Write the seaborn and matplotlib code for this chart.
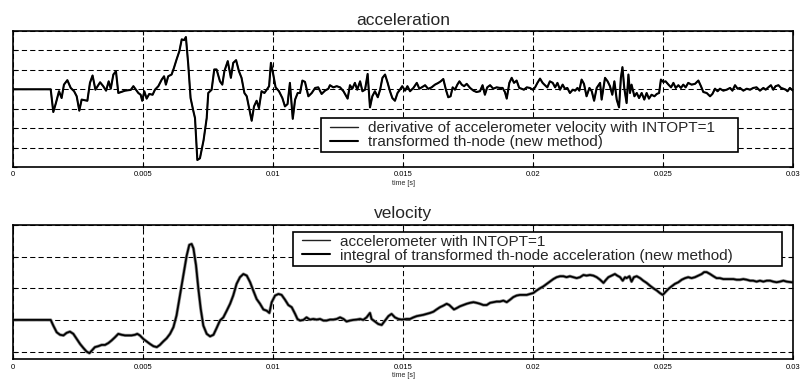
import numpy as np
import matplotlib
matplotlib.use("Agg")
import matplotlib.pyplot as plt
from matplotlib.legend_handler import HandlerLine2D
from matplotlib.lines import Line2D
import seaborn as sns

# ---------------- data ----------------
xticks = [0, 0.005, 0.01, 0.015, 0.02, 0.025, 0.03]
xtick_labels = ["0", "0.005", "0.01", "0.015", "0.02", "0.025", "0.03"]

accel_time_ms = [
    0, 1.45, 1.55, 1.65, 1.77, 1.87, 1.96, 2.09, 2.22, 2.35,
    2.45, 2.55, 2.64, 2.86, 2.96, 3.06, 3.17, 3.35, 3.47, 3.58,
    3.68, 3.76, 3.86, 3.96, 4.05, 4.31, 4.53, 4.63, 4.82, 4.91,
    4.97, 5.05, 5.14, 5.24, 5.37, 5.46, 5.59, 5.72, 5.81, 5.88,
    5.97, 6.10, 6.19, 6.29, 6.40, 6.49, 6.58, 6.65, 6.74, 6.83,
    6.94, 7.00, 7.09, 7.19, 7.33, 7.45,
    7.51, 7.64, 7.74, 7.83, 7.96, 8.05, 8.13, 8.26, 8.38, 8.47,
    8.58, 8.69, 8.79, 8.90, 8.99, 9.08, 9.18, 9.27, 9.37, 9.46,
    9.56, 9.67, 9.76, 9.85, 9.92, 10.01, 10.10, 10.23, 10.36, 10.46,
    10.56, 10.65, 10.76, 10.85, 10.95, 11.04, 11.13, 11.23, 11.36, 11.49,
    11.62, 11.74, 11.87, 12.00, 12.13, 12.19, 12.32, 12.45, 12.58, 12.71,
    12.87, 12.96, 13.05, 13.15, 13.24, 13.35, 13.44, 13.54, 13.64, 13.73,
    13.82, 13.92, 14.03, 14.12, 14.21, 14.31, 14.41, 14.50, 14.59, 14.69,
    14.79, 14.88, 14.97,
    15.08, 15.17, 15.27, 15.40, 15.53, 15.63, 15.72, 15.85, 15.97, 16.10,
    16.23, 16.36, 16.45, 16.55, 16.65, 16.74, 16.83, 16.91, 17.00, 17.09,
    17.17, 17.26, 17.35, 17.45, 17.58, 17.71, 17.83, 17.96, 18.06, 18.15,
    18.24, 18.35, 18.47, 18.60, 18.73, 18.83, 18.92, 18.99, 19.09, 19.18,
    19.27, 19.37, 19.47, 19.56, 19.65, 19.76, 19.88, 19.99, 20.08, 20.17,
    20.27, 20.37, 20.46, 20.55, 20.65, 20.76, 20.85, 20.94, 21.04, 21.14,
    21.23, 21.32, 21.42, 21.53, 21.62, 21.71, 21.78, 21.87, 21.96, 22.06,
    22.17, 22.26, 22.35, 22.45,
    22.58, 22.64, 22.77, 22.87, 22.96, 23.05, 23.13, 23.22, 23.31, 23.38,
    23.44, 23.51, 23.60, 23.67, 23.73, 23.79, 23.90, 23.99, 24.08, 24.18,
    24.28, 24.37, 24.46, 24.56, 24.67, 24.76, 24.85, 24.92, 25.01, 25.10,
    25.21, 25.31, 25.40, 25.49, 25.59, 25.69, 25.78, 25.87, 25.97, 26.10,
    26.23, 26.36, 26.46, 26.55, 26.68, 26.81, 26.90, 27.00, 27.10, 27.19,
    27.32, 27.45, 27.58, 27.67, 27.77, 27.87, 27.96, 28.09, 28.22, 28.35,
    28.47, 28.60, 28.73, 28.86, 28.95, 29.05, 29.15, 29.24, 29.33, 29.44,
    29.54, 29.63, 29.72, 29.79, 29.88, 30.00,
]

accel_transformed = [
    0, 0, -1.17, -0.71, -0.10, -0.45, 0.24, 0.47, 0.07, -0.10,
    -0.36, -1.10, -0.53, -0.59, 0.33, 0.71, -0.02, 0.36, 0.16, -0.07,
    0.41, 0.03, 0.76, 0.93, -0.19, -0.07, -0.03, 0.16, -0.19, -0.28,
    -0.59, -0.10, -0.48, -0.24, -0.28, -0.02, 0.16, 0.50, 0.67, 0.24,
    0.67, 0.76, 1.10, 1.53, 1.97, 2.57, 2.53, 2.69, 1.28, -0.45,
    -1.14, -1.48, -3.64, -3.55, -2.62, -1.48,
    -0.19, -0.02, 1.02, 1.02, 0.41, 0.24, 0.93, 1.45, 0.59, 1.36,
    1.50, 0.93, 0.59, -0.19, -0.36, -0.97, -1.62, -0.88, -0.59, -0.97,
    -0.10, -0.19, -0.02, 0.16, 1.36, 0.76, 0.10, -0.10, -0.45, -0.88,
    -0.76, 0.33, -1.52, -0.53, -0.19, -0.19, 0.45, 0.38, -0.36, -0.19,
    0.07, 0.10, -0.24, -0.07, 0.03, 0.21, 0.10, 0.16, 0.10, -0.10,
    -0.48, 0.21, 0.03, 0.33, -0.02, 0.41, -0.10, -0.02, 0.79, -0.93,
    -0.36, -0.10, -0.41, -0.02, 0.59, 0.76, 0.33, -0.10, -0.45, -0.59,
    -0.19, -0.02, 0.16,
    -0.07, 0.16, -0.10, 0.07, 0.33, 0.03, 0.10, 0.21, 0.02, 0.10,
    0.24, 0.33, 0.41, 0.53, -0.02, -0.41, -0.36, 0.10, -0.02, 0.24,
    0.41, 0.24, 0.16, 0.28, 0.07, -0.07, -0.14, -0.10, 0.21, -0.28,
    0.10, 0.21, 0.03, 0.10, 0.07, 0.07, -0.14, -0.48, 0.33, 0.59,
    0.33, 0.45, 0.07, 0.03, -0.02, 0.10, 0.07, -0.02, 0.10, 0.33,
    0.55, 0.33, 0.21, 0.10, 0.41, 0.33, 0.10, 0.33, -0.02, 0.24,
    0.02, 0.07, -0.19, -0.02, -0.07, 0.07, -0.07, 0.50, 0.28, -0.36,
    0.07, -0.10, -0.59, 0.07,
    0.33, -0.53, 0.59, 0.41, 0.16, -0.28, 0.41, -0.53, -0.93, 0.59,
    1.14, 0.07, -0.71, 0.76, -0.19, 0.24, -0.36, -0.19, -0.45, -0.19,
    -0.53, -0.19, -0.48, -0.28, -0.36, -0.24, -0.19, 0.50, 0.38, 0.41,
    0.24, 0.10, 0.33, 0.07, 0.21, 0.07, 0.24, 0.10, 0.33, 0.24,
    0.28, 0.45, 0.16, -0.14, -0.19, -0.36, -0.24, 0.03, -0.10, 0.03,
    -0.07, -0.02, 0.07, -0.07, 0.21, 0.03, 0.07, -0.07, 0.03, -0.02,
    0.07, 0.10, -0.07, 0.07, -0.02, 0.10, 0.21, -0.02, 0.16, 0.21,
    0.07, 0.03, -0.02, -0.10, 0.07, -0.07,
]
# the two acceleration curves are indistinguishable in the reference
accel_derivative = list(accel_transformed)

vel_time_ms = [
    0, 1.45, 1.55, 1.68, 1.81, 1.94, 2.06, 2.19, 2.32, 2.45,
    2.58, 2.71, 2.83, 2.94, 3.03, 3.15, 3.28, 3.41, 3.54, 3.67,
    3.79, 3.92, 4.05, 4.18, 4.31, 4.44, 4.56, 4.69, 4.78, 4.88,
    5.01, 5.14, 5.27, 5.40, 5.53, 5.65, 5.78, 5.91, 6.04, 6.17,
    6.29, 6.42, 6.55, 6.68, 6.78, 6.87, 6.94, 7.04, 7.13, 7.22,
    7.32, 7.45, 7.58, 7.71, 7.83, 7.96, 8.09, 8.22, 8.35, 8.47,
    8.60, 8.73, 8.86, 8.99, 9.12, 9.24, 9.37, 9.50, 9.63, 9.76,
    9.86, 9.95, 10.08, 10.21, 10.33, 10.46, 10.59, 10.72, 10.85, 10.94,
    11.04, 11.17, 11.29, 11.42, 11.55, 11.68, 11.81, 11.94, 12.06, 12.19,
    12.32, 12.45, 12.58, 12.71, 12.83, 12.96, 13.09, 13.22, 13.35, 13.47,
    13.60, 13.73, 13.79, 13.92, 14.05, 14.18, 14.31, 14.44, 14.56, 14.69,
    14.82, 14.95,
    15.14, 15.27, 15.40, 15.53, 15.65, 15.78, 15.91, 16.04, 16.17, 16.29,
    16.42, 16.55, 16.68, 16.78, 16.87, 16.96, 17.06, 17.19, 17.32, 17.45,
    17.58, 17.71, 17.83, 17.96, 18.09, 18.22, 18.35, 18.47, 18.60, 18.73,
    18.86, 18.99, 19.12, 19.24, 19.37, 19.50, 19.63, 19.76, 19.88, 20.01,
    20.14, 20.27, 20.40, 20.53, 20.65, 20.78, 20.91, 21.04, 21.17, 21.29,
    21.42, 21.55, 21.68, 21.81, 21.94, 22.06, 22.19, 22.32, 22.45, 22.58,
    22.71, 22.81, 22.90, 23.03, 23.15, 23.24, 23.35, 23.45, 23.54, 23.60,
    23.71, 23.79, 23.88, 23.99, 24.12, 24.24, 24.37, 24.50, 24.63, 24.76,
    24.88, 24.99, 25.08, 25.21, 25.33, 25.46, 25.59, 25.72, 25.85, 25.97,
    26.10, 26.23, 26.36, 26.49, 26.58, 26.68, 26.81, 26.94, 27.06, 27.19,
    27.32, 27.45, 27.58, 27.71, 27.83, 27.96, 28.09, 28.22, 28.35, 28.47,
    28.60, 28.73, 28.86, 28.99, 29.12, 29.24, 29.37, 29.50, 29.63, 29.76,
    29.95, 30.00,
]

vel_integral = [
    0, 0, -0.18, -0.39, -0.47, -0.49, -0.41, -0.37, -0.44, -0.60,
    -0.76, -0.89, -1.00, -1.05, -0.97, -0.86, -0.83, -0.79, -0.79, -0.73,
    -0.65, -0.55, -0.44, -0.47, -0.49, -0.49, -0.49, -0.47, -0.44, -0.49,
    -0.60, -0.68, -0.76, -0.83, -0.86, -0.79, -0.68, -0.58, -0.44, -0.23,
    0.14, 0.77, 1.40, 2.03, 2.37, 2.40, 2.26, 1.72, 0.98, 0.35,
    -0.18, -0.44, -0.52, -0.47, -0.26, -0.02, 0.08, 0.29, 0.51, 0.77,
    1.14, 1.35, 1.45, 1.40, 1.19, 0.93, 0.66, 0.51, 0.33, 0.29,
    0.22, 0.56, 0.77, 0.82, 0.79, 0.64, 0.47, 0.40, 0.19, 0.03,
    -0.02, 0, 0.08, 0.01, 0.03, 0.01, 0.03, -0.02, -0.02, 0.01,
    0.01, 0.03, 0.08, 0.03, -0.05, -0.02, 0, 0.01, 0.03, 0,
    0.08, 0.22, 0.03, -0.05, -0.13, -0.16, -0.02, 0.12, 0.19, 0.08,
    0.03, 0.01,
    0.03, 0.03, 0.08, 0.12, 0.14, 0.16, 0.19, 0.22, 0.26, 0.33,
    0.40, 0.45, 0.51, 0.47, 0.40, 0.33, 0.37, 0.43, 0.47, 0.51,
    0.54, 0.56, 0.54, 0.51, 0.47, 0.47, 0.54, 0.56, 0.58, 0.58,
    0.61, 0.56, 0.64, 0.72, 0.77, 0.79, 0.79, 0.79, 0.82, 0.85,
    0.93, 1.00, 1.06, 1.14, 1.21, 1.29, 1.35, 1.38, 1.38, 1.35,
    1.38, 1.35, 1.32, 1.35, 1.42, 1.40, 1.42, 1.40, 1.35, 1.27,
    1.17, 1.27, 1.35, 1.40, 1.45, 1.40, 1.35, 1.24, 1.35, 1.32,
    1.38, 1.21, 1.35, 1.38, 1.32, 1.24, 1.17, 1.08, 1.00, 0.93,
    0.85, 0.79, 0.87, 0.98, 1.06, 1.14, 1.19, 1.27, 1.32, 1.35,
    1.32, 1.35, 1.40, 1.45, 1.51, 1.51, 1.45, 1.38, 1.32, 1.32,
    1.29, 1.29, 1.29, 1.29, 1.27, 1.27, 1.29, 1.27, 1.24, 1.24,
    1.21, 1.24, 1.21, 1.24, 1.24, 1.21, 1.19, 1.21, 1.24, 1.21,
    1.19, 1.19,
]
# the accelerometer velocity lies right under the integrated curve
vel_accelerometer = list(vel_integral)

acc_labels = ["derivative of accelerometer velocity with INTOPT=1",
              "transformed th-node (new method)"]
vel_labels = ["accelerometer with INTOPT=1",
              "integral of transformed th-node acceleration (new method)"]

# ---------------- style ----------------
sns.set_style("ticks")
plt.rcParams['font.family'] = ['Liberation Sans', 'DejaVu Sans']

fig = plt.figure(figsize=(8, 3.8), dpi=100)
ax1 = fig.add_axes([0.01625, 0.5605, 0.975, 0.3579])
ax2 = fig.add_axes([0.01625, 0.054, 0.975, 0.354])

t_acc = np.array(accel_time_ms) / 1000.0
t_vel = np.array(vel_time_ms) / 1000.0

sns.lineplot(x=t_acc, y=accel_derivative, ax=ax1, color="#555555",
             linewidth=1.0, label=acc_labels[0], estimator=None, sort=False)
sns.lineplot(x=t_acc, y=accel_transformed, ax=ax1, color="black",
             linewidth=1.5, label=acc_labels[1], estimator=None, sort=False)

sns.lineplot(x=t_vel, y=vel_accelerometer, ax=ax2, color="#8a8a8a",
             linewidth=2.3, label=vel_labels[0], estimator=None, sort=False)
sns.lineplot(x=t_vel, y=vel_integral, ax=ax2, color="black",
             linewidth=1.25, label=vel_labels[1], estimator=None, sort=False)


def style(ax, ylim, yticks, title, title_pad):
    ax.set_xlim(0, 0.03)
    ax.set_ylim(*ylim)
    ax.set_xticks(xticks)
    ax.set_xticklabels(xtick_labels, fontsize=5.5)
    ax.set_yticks(yticks)
    ax.set_yticklabels([])
    ax.grid(True, color="black", linestyle=(0, (5, 3)), linewidth=0.75)
    ax.set_axisbelow(True)
    ax.tick_params(direction="in", length=3, width=0.8, top=True, right=True,
                   left=True, bottom=True, pad=3, colors="black")
    for s in ax.spines.values():
        s.set_visible(True)
        s.set_linewidth(1.2)
        s.set_color("black")
    ax.set_xlabel("time [s]", fontsize=5, labelpad=1)
    ax.set_ylabel("")
    ax.set_title(title, fontsize=12.5, pad=title_pad)


style(ax1, (-4, 3), [-4, -3, -2, -1, 0, 1, 2, 3], "acceleration", 4)
style(ax2, (-1.25, 3.0), [-1, 0, 1, 2, 3], "velocity", 5)

LEG_FS = 11


def make_legend(ax, bbox, loc):
    h1 = Line2D([], [], color="#222222", linewidth=1.0)
    h2 = Line2D([], [], color="black", linewidth=1.5)
    labels = [t.get_text() for t in ax.get_legend().get_texts()]
    leg = ax.legend([h1, h2], labels, loc=loc, bbox_to_anchor=bbox,
                    mode="expand", borderaxespad=0, fontsize=LEG_FS,
                    frameon=True, fancybox=False, framealpha=1,
                    edgecolor="black", borderpad=0.2, labelspacing=0.0,
                    handlelength=2.23, handletextpad=0.65,
                    handler_map={Line2D: HandlerLine2D(xpad=0.39)})
    leg.get_frame().set_linewidth(1.2)
    return leg


make_legend(ax1, (0.395, 0.110, 0.534, 0.258), "lower left")
make_legend(ax2, (0.359, 0.685, 0.627, 0.265), "upper left")

fig.savefig("out.png", dpi=100, facecolor="white")
